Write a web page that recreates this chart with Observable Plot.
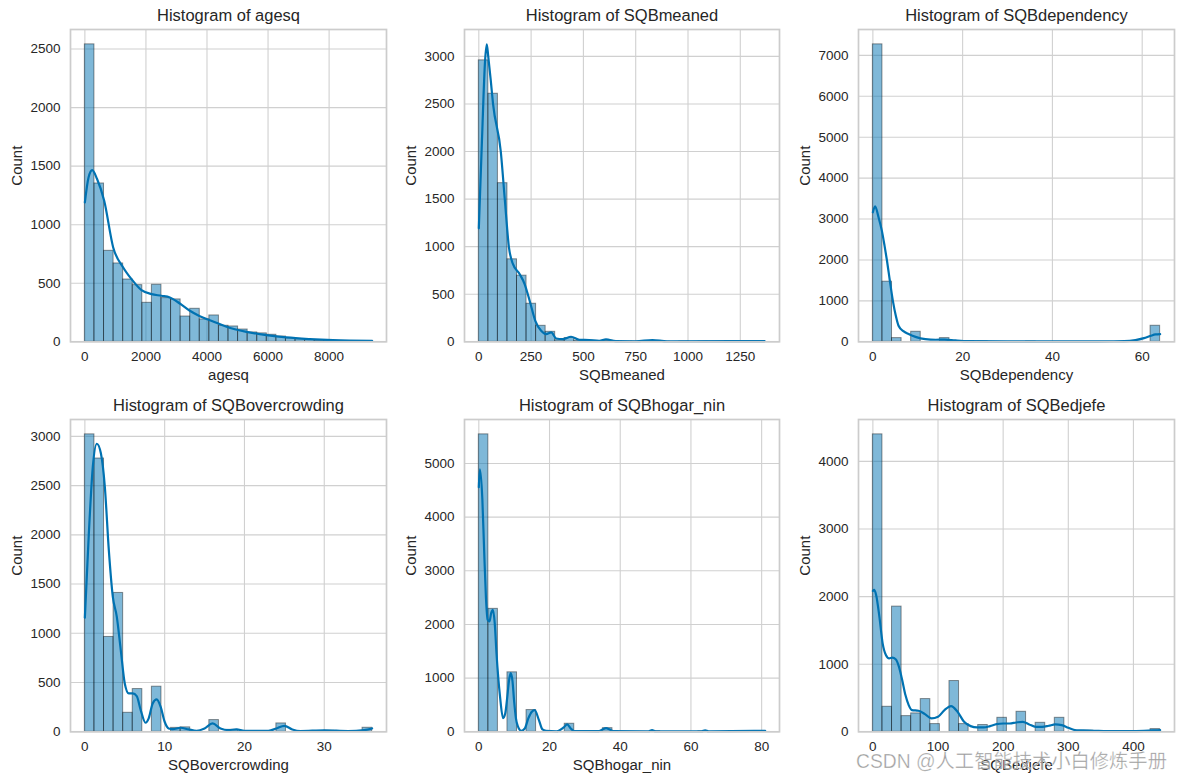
<!DOCTYPE html>
<html>
<head>
<meta charset="utf-8">
<script src="https://cdn.jsdelivr.net/npm/d3@7"></script>
<script src="https://cdn.jsdelivr.net/npm/@observablehq/plot@0.6"></script>
<style>
  html, body { margin: 0; padding: 0; background: #ffffff; }
  #chart { position: relative; width: 1184px; height: 783px; overflow: hidden; background: #ffffff; font-family: "Liberation Sans", Arial, sans-serif; }
  #chart svg { position: absolute; overflow: visible; background: transparent; max-width: none; }
  #wm { position: absolute; left: 856px; top: 750px; font-family: "Liberation Sans", "Noto Sans CJK SC", sans-serif; font-size: 19.3px; line-height: 24px; color: rgba(140,140,140,0.85); white-space: nowrap; -webkit-text-stroke: 0.6px rgba(255,255,255,0.6); z-index: 5; }
</style>
</head>
<body>
<div id="chart"></div>
<script>
// ---------- data ----------
const variables = ["agesq", "SQBmeaned", "SQBdependency", "SQBovercrowding", "SQBhogar_nin", "SQBedjefe"];

// data ranges (min, max) of each variable; 30 equal bins in between
const agesqRange = [0, 9409];
const meanedRange = [0, 1369];
const dependencyRange = [0, 64];
const overcrowdingRange = [0, 36];
const hogarRange = [0, 81];
const edjefeRange = [0, 441];

// bin counts (30 bins each)
const agesqCounts = [2540,1352,777,669,532,484,333,487,373,362,216,282,191,225,137,131,105,80,72,60,45,30,22,15,10,7,5,3,2,2];
const meanedCounts = [2958,2607,1667,867,695,400,168,105,15,40,12,10,5,12,3,2,3,2,8,1,0,2,0,1,0,0,0,0,0,2];
const dependencyCounts = [7269,1469,90,0,245,0,0,90,0,0,0,10,0,0,0,0,5,0,0,0,0,0,0,0,0,0,0,0,0,392];
const overcrowdingCounts = [3020,2775,963,1410,193,434,0,458,0,40,45,0,0,119,0,20,0,0,0,0,85,0,0,0,0,10,0,0,0,41];
const hogarCounts = [5542,2291,0,1108,0,405,0,0,0,150,0,0,0,68,0,0,0,0,10,0,0,0,0,8,0,0,0,0,0,2];
const edjefeCounts = [4400,370,1852,232,272,484,114,0,751,114,0,100,0,207,0,296,0,133,0,207,0,0,15,0,5,0,0,3,0,40];

// KDE curves (x, density scaled to counts)
const agesqKdeX = [0,120,240,400,633,928,1255,1528,1855,2183,2510,2783,3110,3438,3765,4200,4640,5290,5950,6600,7370,8130,9409];
const agesqKdeY = [1190,1403,1466,1390,1204,806,635,535,441,407,393,379,327,265,219,174,128,85,57,37,23,14,8];

const meanedKdeX = [0,15,30,38,45,57,68,105,124,144,163,195,219,243,270,298,322,346,370,401,441,481,528,576,608,655,750,830,900,1366];
const meanedKdeY = [1193,2115,2958,3126,3000,2750,2500,2000,1502,993,818,712,607,432,221,116,81,98,35,28,53,21,18,11,25,7,6,18,6,7];

const dependencyKdeX = [0,0.5,1.26,2.0,2.6,3.12,3.8,4.46,5.1,5.72,6.8,7.96,9.5,11.7,14,16,18.4,21.3,30,40,50,56,58.5,60.4,61.9,63,64];
const dependencyKdeY = [3165,3312,3043,2717,2350,2000,1480,1000,640,392,260,188,120,65,50,55,33,16,12,12,12,16,41,90,147,180,188];

const overcrowdingKdeX = [0,0.5,1,1.5,2,2.5,3,3.5,4,4.5,5,5.5,6,6.5,7,7.6,8,8.5,9,9.5,10,10.5,11,12,13,14,15,16,17,18,19,20,23,24,25,26,27,30,33,35,36];
const overcrowdingKdeY = [1159,2017,2695,2925,2830,2490,1847,1373,1169,830,491,390,390,363,220,92,136,288,329,254,102,34,27,41,24,10,34,85,34,17,24,10,10,34,61,24,8,14,8,17,34];

const hogarKdeX = [0,0.3,1,1.5,2,2.5,3,3.5,4,4.5,5,6,6.85,7.5,8,8.5,9,9.5,10,10.5,11,12,13,14,15,15.8,17,18,19,22,24,25,26,27,34,35,36,37,38,48,49,50,63,64,65,81];
const hogarKdeY = [4558,4888,4328,3393,2522,2086,2055,2210,2273,2024,1463,654,255,350,620,930,1095,960,560,250,110,19,62,249,374,405,218,44,19,10,81,137,62,15,12,44,68,44,15,10,31,10,10,25,10,19];

const edjefeKdeX = [0,2,5,10,15,20,25,30,35,40,45,50,55,60,70,80,90,100,110,120,130,140,150,160,170,180,190,200,210,220,230,240,250,260,270,280,290,300,310,320,340,360,400,430,441];
const edjefeKdeY = [2084,2099,2025,1704,1309,1136,1086,1096,1072,963,765,543,395,321,311,262,198,222,321,380,296,148,84,64,64,84,114,123,123,138,148,109,74,74,89,109,99,59,25,20,15,10,10,20,25];

// tick labels
const agesqXTicks = [0,2000,4000,6000,8000];
const agesqYTicks = [0,500,1000,1500,2000,2500];
const meanedXTicks = [0,250,500,750,1000,1250];
const meanedYTicks = [0,500,1000,1500,2000,2500,3000];
const dependencyXTicks = [0,20,40,60];
const dependencyYTicks = [0,1000,2000,3000,4000,5000,6000,7000];
const overcrowdingXTicks = [0,10,20,30];
const overcrowdingYTicks = [0,500,1000,1500,2000,2500,3000];
const hogarXTicks = [0,20,40,60,80];
const hogarYTicks = [0,1000,2000,3000,4000,5000];
const edjefeXTicks = [0,100,200,300,400];
const edjefeYTicks = [0,1000,2000,3000,4000];

// ---------- drawing ----------
const panels = [
  {name: variables[0], range: agesqRange, counts: agesqCounts, kx: agesqKdeX, ky: agesqKdeY, xt: agesqXTicks, yt: agesqYTicks},
  {name: variables[1], range: meanedRange, counts: meanedCounts, kx: meanedKdeX, ky: meanedKdeY, xt: meanedXTicks, yt: meanedYTicks},
  {name: variables[2], range: dependencyRange, counts: dependencyCounts, kx: dependencyKdeX, ky: dependencyKdeY, xt: dependencyXTicks, yt: dependencyYTicks},
  {name: variables[3], range: overcrowdingRange, counts: overcrowdingCounts, kx: overcrowdingKdeX, ky: overcrowdingKdeY, xt: overcrowdingXTicks, yt: overcrowdingYTicks},
  {name: variables[4], range: hogarRange, counts: hogarCounts, kx: hogarKdeX, ky: hogarKdeY, xt: hogarXTicks, yt: hogarYTicks},
  {name: variables[5], range: edjefeRange, counts: edjefeCounts, kx: edjefeKdeX, ky: edjefeKdeY, xt: edjefeXTicks, yt: edjefeYTicks}
];

const frameLefts = [70, 464, 858];
const frameWidths = [316, 315, 316];
const frameTops = [29.3, 419.3];
const frameHeight = 312.3;
const mL = 70, mR = 10, mT = 30, mB = 50;

const BLUE = "#0072B2";
const TEXT = "#262626";
const GRID = "#d0d0d0";
const FONT = "'Liberation Sans', Arial, sans-serif";

const chart = document.getElementById("chart");

panels.forEach((p, idx) => {
  const col = idx % 3, row = Math.floor(idx / 3);
  const n = p.counts.length;
  const w = (p.range[1] - p.range[0]) / n;
  const bins = p.counts.map((c, i) => ({x1: p.range[0] + i * w, x2: p.range[0] + (i + 1) * w, y: c})).filter(d => d.y > 0);
  const kde = p.kx.map((x, i) => ({x, y: p.ky[i]}));
  const span = p.range[1] - p.range[0];
  const xDomain = [p.range[0] - 0.05 * span, p.range[1] + 0.05 * span];
  const yMax = Math.max(d3.max(p.counts), d3.max(p.ky)) * 1.05;

  const svg = Plot.plot({
    width: frameWidths[col] + mL + mR,
    height: frameHeight + mT + mB,
    marginLeft: mL, marginRight: mR, marginTop: mT, marginBottom: mB,
    style: {fontFamily: FONT, color: TEXT, background: "transparent", overflow: "visible"},
    x: {domain: xDomain},
    y: {domain: [0, yMax]},
    marks: [
      Plot.gridX(p.xt, {stroke: GRID, strokeOpacity: 1, strokeWidth: 1.1}),
      Plot.gridY(p.yt, {stroke: GRID, strokeOpacity: 1, strokeWidth: 1.1}),
      Plot.rectY(bins, {x1: "x1", x2: "x2", y: "y", fill: BLUE, fillOpacity: 0.5, stroke: "#000000", strokeOpacity: 0.42, strokeWidth: 1}),
      Plot.line(kde, {x: "x", y: "y", curve: "monotone-x", stroke: BLUE, strokeWidth: 2.2}),
      Plot.frame({stroke: "#cccccc", strokeWidth: 1.7}),
      Plot.axisX(p.xt, {tickSize: 0, tickPadding: 9.5, fontSize: 13.5, label: null, tickFormat: d => String(d)}),
      Plot.axisY(p.yt, {tickSize: 0, tickPadding: 10, fontSize: 13.5, label: null, tickFormat: d => String(d)}),
      Plot.text([p.name], {frameAnchor: "bottom", lineAnchor: "middle", dy: 33, fontSize: 15, fill: TEXT}),
      Plot.text(["Count"], {frameAnchor: "left", lineAnchor: "middle", dx: -53, rotate: -90, fontSize: 15, fill: TEXT}),
      Plot.text(["Histogram of " + p.name], {frameAnchor: "top", lineAnchor: "middle", dy: -13.3, fontSize: 16.5, fill: TEXT})
    ]
  });
  svg.style.left = (frameLefts[col] - mL) + "px";
  svg.style.top = (frameTops[row] - mT) + "px";
  chart.appendChild(svg);
});

const wm = document.createElement("div");
wm.id = "wm";
wm.textContent = "CSDN @人工智能技术小白修炼手册";
chart.appendChild(wm);
</script>
</body>
</html>
